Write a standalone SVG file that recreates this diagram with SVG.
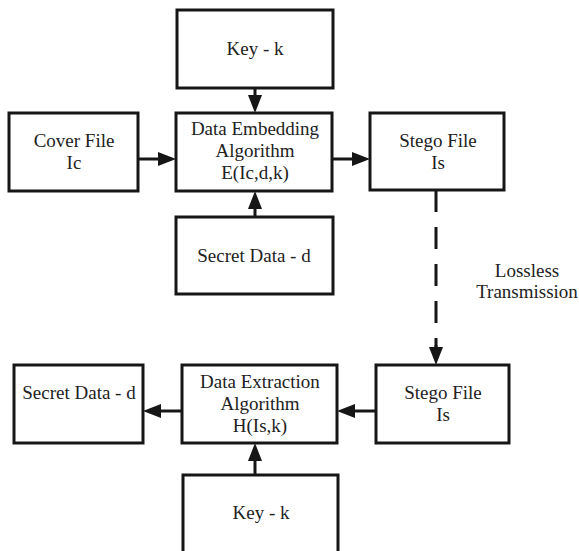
<svg xmlns="http://www.w3.org/2000/svg" width="579" height="551" viewBox="0 0 579 551">
<style>
.box{fill:#fff;stroke:#161616;stroke-width:3;stroke-linejoin:miter}
.lbl{font-family:"Liberation Serif","Times New Roman",serif;font-size:19px;fill:#222;text-anchor:middle}
.con{stroke:#161616;stroke-width:3;fill:none}
.dash{stroke-dasharray:22 15}
</style>
<defs>
<marker id="ah" markerUnits="userSpaceOnUse" markerWidth="18" markerHeight="14" refX="0" refY="7" orient="auto">
<path d="M0,0 L18,7 L0,14 z" fill="#161616"/>
</marker>
</defs>
<rect width="579" height="551" fill="#fff"/>
<g id="key-top"><rect class="box" x="177" y="10" width="156" height="78"/><text class="lbl" x="255" y="55">Key - k</text></g>
<g id="cover-file"><rect class="box" x="9" y="113" width="129" height="78"/><text class="lbl" x="74" y="147">Cover File</text><text class="lbl" x="74" y="169">Ic</text></g>
<g id="embedding"><rect class="box" x="176" y="113" width="156" height="78"/><text class="lbl" x="255" y="135">Data Embedding</text><text class="lbl" x="255" y="157">Algorithm</text><text class="lbl" x="255" y="179">E(Ic,d,k)</text></g>
<g id="stego-top"><rect class="box" x="370" y="113" width="134" height="77"/><text class="lbl" x="438" y="147">Stego File</text><text class="lbl" x="438" y="169">Is</text></g>
<g id="secret-top"><rect class="box" x="176" y="217" width="157" height="77"/><text class="lbl" x="254" y="262">Secret Data - d</text></g>
<g id="transmission-label"><text class="lbl" x="527" y="277">Lossless</text><text class="lbl" x="527" y="298">Transmission</text></g>
<g id="secret-bottom"><rect class="box" x="14" y="365" width="129" height="78"/><text class="lbl" x="79" y="399">Secret Data - d</text></g>
<g id="extraction"><rect class="box" x="182" y="365" width="155" height="78"/><text class="lbl" x="260" y="388">Data Extraction</text><text class="lbl" x="260" y="410">Algorithm</text><text class="lbl" x="260" y="432">H(Is,k)</text></g>
<g id="stego-bottom"><rect class="box" x="376" y="365" width="133" height="78"/><text class="lbl" x="443" y="399">Stego File</text><text class="lbl" x="443" y="421">Is</text></g>
<g id="key-bottom"><rect class="box" x="183" y="475" width="155" height="90"/><text class="lbl" x="261" y="519">Key - k</text></g>
<g id="connectors">
<line class="con" x1="255" y1="88" x2="255" y2="95" marker-end="url(#ah)"/>
<line class="con" x1="138" y1="159" x2="158" y2="159" marker-end="url(#ah)"/>
<line class="con" x1="332" y1="159" x2="352" y2="159" marker-end="url(#ah)"/>
<line class="con" x1="255" y1="217" x2="255" y2="209" marker-end="url(#ah)"/>
<line class="con dash" x1="436" y1="190" x2="436" y2="347"/>
<line class="con" x1="436" y1="345" x2="436" y2="347" marker-end="url(#ah)"/>
<line class="con" x1="376" y1="411" x2="355" y2="411" marker-end="url(#ah)"/>
<line class="con" x1="182" y1="411" x2="161" y2="411" marker-end="url(#ah)"/>
<line class="con" x1="255" y1="475" x2="255" y2="461" marker-end="url(#ah)"/>
</g>
</svg>
